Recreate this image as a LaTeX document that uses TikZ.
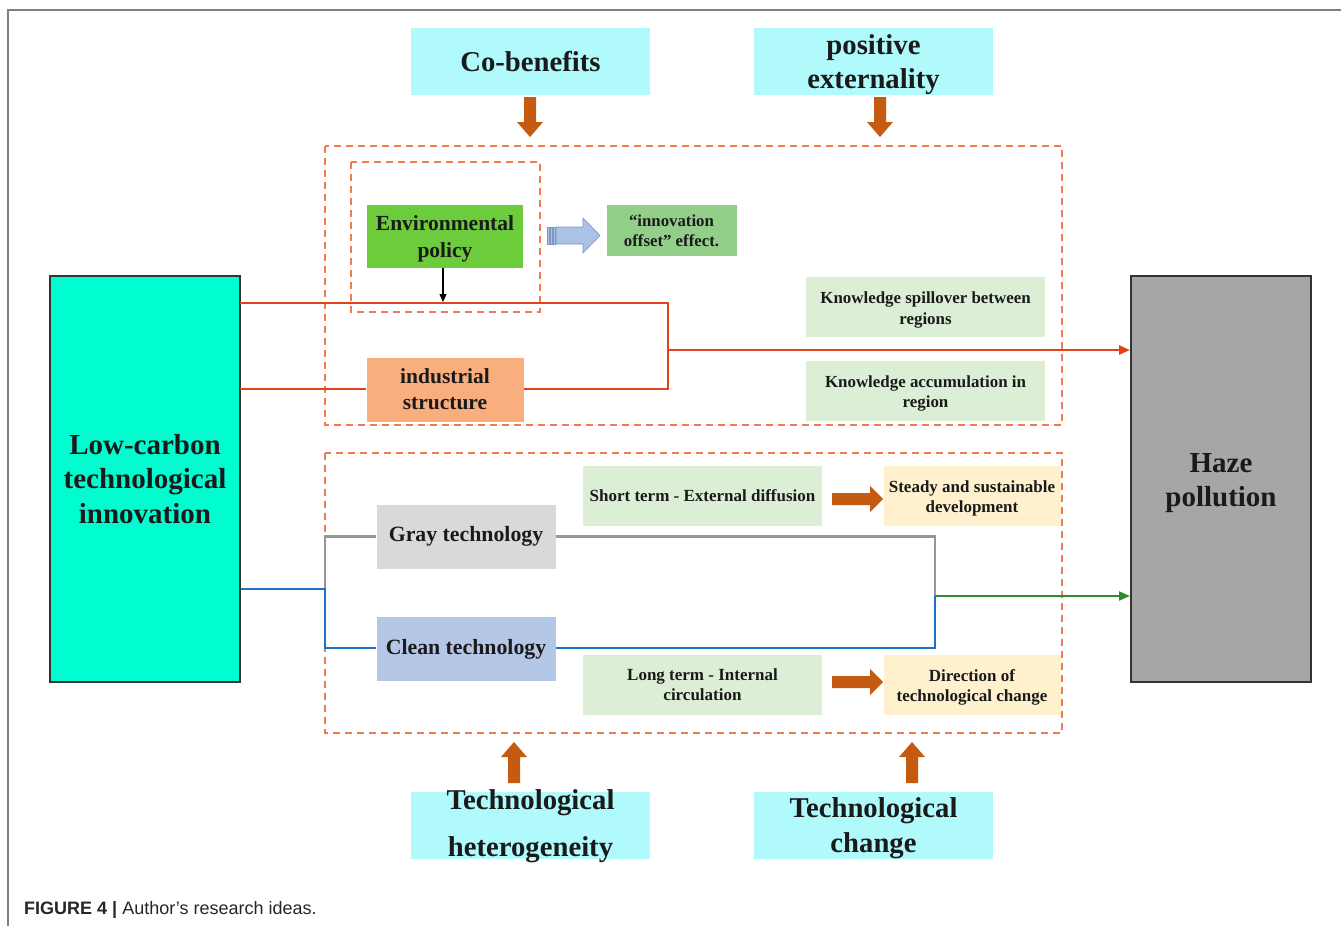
\documentclass[tikz,border=0pt]{standalone}
\usepackage{fontspec}
\setmainfont{Liberation Serif}
\newfontfamily\capfont{Liberation Sans}
\usetikzlibrary{arrows.meta}
\definecolor{cyanbox}{HTML}{B0FAFC}
\definecolor{dashc}{HTML}{EE7B52}
\definecolor{envg}{HTML}{6CCC3C}
\definecolor{offg}{HTML}{94CF8A}
\definecolor{indo}{HTML}{F9AF7D}
\definecolor{lgreen}{HTML}{DDEED6}
\definecolor{lyellow}{HTML}{FFF1CE}
\definecolor{grayb}{HTML}{D9D9D9}
\definecolor{blueb}{HTML}{B4C7E7}
\definecolor{lowc}{HTML}{00FDCF}
\definecolor{hazec}{HTML}{A6A6A6}
\definecolor{redl}{HTML}{E2421B}
\definecolor{grayl}{HTML}{969696}
\definecolor{bluel}{HTML}{1F70C8}
\definecolor{greenl}{HTML}{2D8A2D}
\definecolor{blockc}{HTML}{C55A11}
\definecolor{txt}{HTML}{1A1A1A}
\definecolor{barrow}{HTML}{A9C2E6}
\definecolor{barrowd}{HTML}{7F95BA}
\definecolor{framec}{HTML}{808080}
\newcommand{\fsb}[2]{\fontsize{#1}{#2}\selectfont\bfseries}
\newcommand{\dnarrow}[1]{\fill[blockc] ({#1-6},97) -- ({#1+6},97) -- ({#1+6},122) -- ({#1+13},122) -- (#1,137) -- ({#1-13},122) -- ({#1-6},122) -- cycle;}
\newcommand{\uparrowblk}[1]{\fill[blockc] ({#1-6},783) -- ({#1+6},783) -- ({#1+6},757) -- ({#1+13},757) -- (#1,742) -- ({#1-13},757) -- ({#1-6},757) -- cycle;}
\newcommand{\rtarrow}[1]{\fill[blockc] (832,{#1-6}) -- (870,{#1-6}) -- (870,{#1-13}) -- (883,#1) -- (870,{#1+13}) -- (870,{#1+6}) -- (832,{#1+6}) -- cycle;}
\begin{document}
\begin{tikzpicture}[x=1pt,y=-1pt,
  box/.style={inner sep=0pt, align=center, text=txt},
  lbl/.style={inner sep=0pt, align=center, text=txt},
  dbox/.style={draw=dashc, line width=1.4pt, dash pattern=on 7pt off 5pt},
  conn/.style={line width=2.4pt},
  tip/.style={-{Triangle[length=11pt,width=9pt]}},
]
\useasboundingbox (0,0) rectangle (1341,926);
\draw[framec, line width=1.5pt] (8,926) -- (8,10) -- (1341,10);

% top / bottom factor boxes
\node[box, fill=cyanbox, minimum width=239pt, minimum height=67pt, font=\fsb{28.7}{34}] (cob) at (530.5,61.5) {Co-benefits};
\node[box, fill=cyanbox, minimum width=239pt, minimum height=67pt] (pos) at (873.5,61.5) {};
\node[lbl, font=\fsb{28.7}{34}] (postxt) at (873.5,64.5) {positive\\externality};
\node[box, fill=cyanbox, minimum width=239pt, minimum height=67pt] (het) at (530.5,825.5) {};
\node[lbl, font=\fsb{28.7}{47}] (hettxt) at (530.5,826.5) {Technological\\heterogeneity};
\node[box, fill=cyanbox, minimum width=239pt, minimum height=67pt] (chg) at (873.5,825.5) {};
\node[lbl, font=\fsb{28.7}{35}] (chgtxt) at (873.5,828.5) {Technological\\change};
\dnarrow{530}
\dnarrow{880}
\uparrowblk{514}
\uparrowblk{912}

% dashed groups
\draw[dbox] (325,146) rectangle (1062,425);
\draw[dbox] (351,162) rectangle (540,312);
\draw[dbox] (325,453) rectangle (1062,733);

% main boxes
\node[box, draw=black!80, line width=2pt, fill=lowc, minimum width=190pt, minimum height=406pt, font=\fsb{29}{34.5}] (low) at (145,479) {Low-carbon\\technological\\innovation};
\node[box, draw=black!80, line width=2pt, fill=hazec, minimum width=180pt, minimum height=406pt] (haze) at (1221,479) {};
\node[lbl, font=\fsb{29}{34}] (hazetxt) at (1221,483) {Haze\\pollution};

% upper group
\node[box, fill=envg, minimum width=156pt, minimum height=63pt] (env) at (445,236.5) {};
\node[lbl, font=\fsb{21.5}{27}] (envtxt) at (445,238.5) {Environmental\\policy};
\node[box, fill=offg, minimum width=130pt, minimum height=51pt, font=\fsb{16.8}{20}] (off) at (671.5,230.5) {“innovation\\offset” effect.};
\node[box, fill=indo, minimum width=157pt, minimum height=64pt, font=\fsb{21.5}{26}] (ind) at (445,389.5) {industrial\\structure};
\node[box, fill=lgreen, minimum width=239pt, minimum height=60pt] (ks) at (925.5,307) {};
\node[lbl, font=\fsb{16.9}{21}] (kstxt) at (925.5,309.5) {Knowledge spillover between\\regions};
\node[box, fill=lgreen, minimum width=239pt, minimum height=60pt] (ka) at (925.5,391) {};
\node[lbl, font=\fsb{16.9}{20.5}] (katxt) at (925.5,393.5) {Knowledge accumulation in\\region};

% blue block arrow
\filldraw[fill=barrow, draw=barrowd, line width=0.6pt] (556,227) -- (583,227) -- (583,218) -- (600,235.5) -- (583,253) -- (583,244) -- (556,244) -- cycle;
\filldraw[fill=barrow, draw=barrowd, line width=0.5pt] (547.7,227) rectangle (549.3,244);
\filldraw[fill=barrow, draw=barrowd, line width=0.5pt] (550.7,227) rectangle (552.3,244);
\filldraw[fill=barrow, draw=barrowd, line width=0.5pt] (553.3,227) rectangle (555,244);

% red connectors
\coordinate (ra) at (240,303);
\coordinate (rb) at (668,303);
\coordinate (rc) at (668,389);
\coordinate (rm) at (668,350);
\draw[conn, redl] (ra) -- (rb) -- (rc) -- (ind.east |- rc);
\draw[conn, redl] (ind.west |- rc) -- (ra |- rc);
\draw[conn, redl, tip] (rm) -- (haze.west |- rm);
\draw[line width=1.2pt, -{Triangle[length=8pt,width=7pt]}] (env.south -| 443,0) -- (443,302);

% lower group
\node[box, fill=lgreen, minimum width=239pt, minimum height=60pt, font=\fsb{17}{21}] (st) at (702.5,496) {Short term - External diffusion};
\node[box, fill=lyellow, minimum width=177pt, minimum height=60pt] (sd) at (972,496) {};
\node[lbl, font=\fsb{17}{20}] (sdtxt) at (972,498.5) {Steady and sustainable\\development};
\node[box, fill=lgreen, minimum width=239pt, minimum height=60pt, font=\fsb{17}{20}] (lt) at (702.5,685) {Long term - Internal\\circulation};
\node[box, fill=lyellow, minimum width=177pt, minimum height=60pt] (dc) at (972,685) {};
\node[lbl, font=\fsb{17}{20}] (dctxt) at (972,687.5) {Direction of\\technological change};
\rtarrow{499}
\rtarrow{682}
\node[box, fill=grayb, minimum width=179pt, minimum height=64pt, font=\fsb{21.8}{26}] (gray) at (466,536.5) {Gray technology};
\node[box, fill=blueb, minimum width=179pt, minimum height=64pt, font=\fsb{21.8}{26}] (clean) at (466,649) {Clean technology};

\coordinate (ga) at (325,536.5);
\coordinate (bj) at (325,589);
\coordinate (ba) at (325,648);
\coordinate (gb) at (935,536.5);
\coordinate (gm) at (935,596);
\draw[conn, grayl] (gray.west) -- (ga) -- (bj);
\draw[conn, grayl] (gray.east) -- (gb) -- (gm);
\draw[conn, bluel] (low.east |- bj) -- (bj) -- (ba) -- (clean.west |- ba);
\draw[conn, bluel] (clean.east |- ba) -- (ba -| gm) -- (gm);
\draw[conn, greenl, line width=2pt, tip] (gm) -- (haze.west |- gm);

% caption
\node[anchor=base west, font=\capfont\fontsize{18}{20}\selectfont, text=black!85, inner sep=0pt] (cap) at (24,914) {\textbf{FIGURE 4 |} Author’s research ideas.};
\end{tikzpicture}
\end{document}
